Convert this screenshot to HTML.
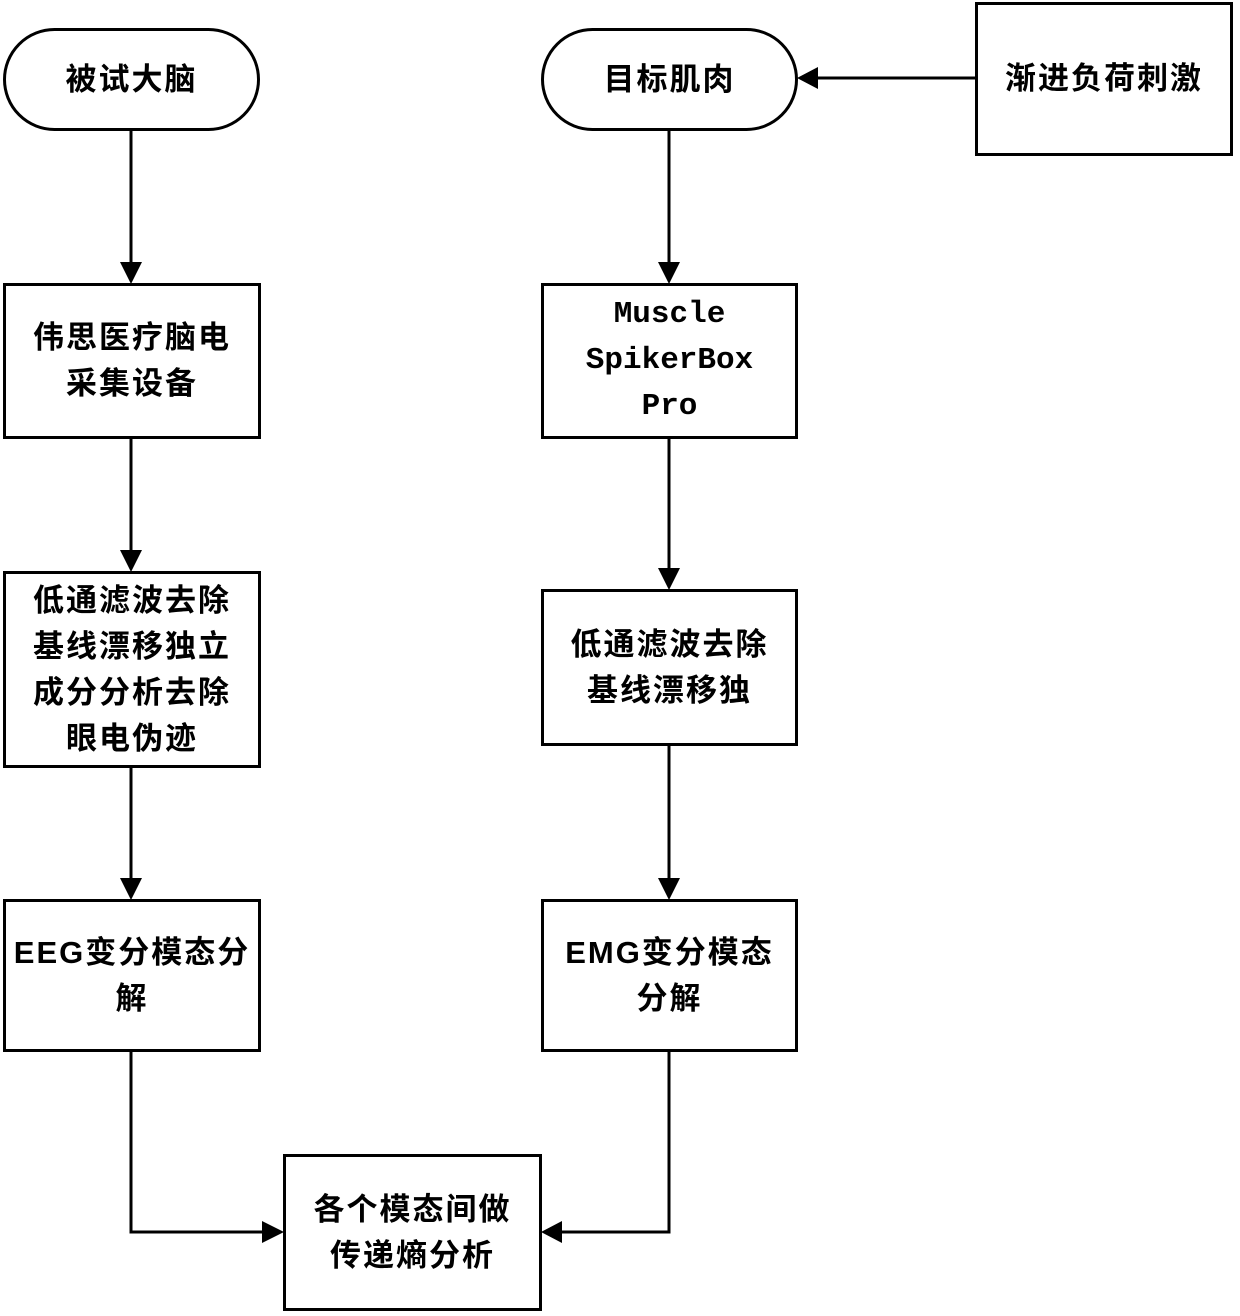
<!DOCTYPE html>
<html><head><meta charset="utf-8"><style>
body{margin:0;width:1240px;height:1316px;background:#fff;position:relative;overflow:hidden;font-family:"Liberation Sans","Noto Sans CJK SC",sans-serif;}
.b{position:absolute;box-sizing:border-box;border:3px solid #000;display:flex;align-items:center;justify-content:center;text-align:center;font-weight:bold;font-size:31px;line-height:46px;letter-spacing:2px;color:#000;background:#fff;}
.m{font-family:"Liberation Mono",monospace;font-size:31px;letter-spacing:0;}
svg{position:absolute;left:0;top:0;}
</style></head><body>
<svg width="1240" height="1316">
<g stroke="#000" stroke-width="3" fill="none">
<line x1="131" y1="130" x2="131" y2="262"/>
<line x1="131" y1="438" x2="131" y2="550"/>
<line x1="131" y1="766" x2="131" y2="878"/>
<polyline points="131,1050 131,1232 262,1232"/>
<line x1="669" y1="130" x2="669" y2="262"/>
<line x1="669" y1="438" x2="669" y2="568"/>
<line x1="669" y1="745" x2="669" y2="878"/>
<polyline points="669,1050 669,1232 562,1232"/>
<line x1="975" y1="78" x2="818" y2="78"/>
</g>
<g fill="#000">
<polygon points="120,262 142,262 131,284"/>
<polygon points="120,550 142,550 131,572"/>
<polygon points="120,878 142,878 131,900"/>
<polygon points="262,1221 262,1243 284,1232"/>
<polygon points="658,262 680,262 669,284"/>
<polygon points="658,568 680,568 669,590"/>
<polygon points="658,878 680,878 669,900"/>
<polygon points="562,1221 562,1243 541,1232"/>
<polygon points="818,67 818,89 797,78"/>
</g>
</svg>
<div class="b" style="left:3px;top:28px;width:257px;height:103px;border-radius:52px;">被试大脑</div>
<div class="b" style="left:541px;top:28px;width:257px;height:103px;border-radius:52px;">目标肌肉</div>
<div class="b" style="left:975px;top:2px;width:258px;height:154px;">渐进负荷刺激</div>
<div class="b" style="left:3px;top:283px;width:258px;height:156px;">伟思医疗脑电<br>采集设备</div>
<div class="b m" style="left:541px;top:283px;width:257px;height:156px;">Muscle<br>SpikerBox<br>Pro</div>
<div class="b" style="left:3px;top:571px;width:258px;height:197px;">低通滤波去除<br>基线漂移独立<br>成分分析去除<br>眼电伪迹</div>
<div class="b" style="left:541px;top:589px;width:257px;height:157px;">低通滤波去除<br>基线漂移独</div>
<div class="b" style="left:3px;top:899px;width:258px;height:153px;">EEG变分模态分<br>解</div>
<div class="b" style="left:541px;top:899px;width:257px;height:153px;">EMG变分模态<br>分解</div>
<div class="b" style="left:283px;top:1154px;width:259px;height:157px;">各个模态间做<br>传递熵分析</div>
</body></html>
